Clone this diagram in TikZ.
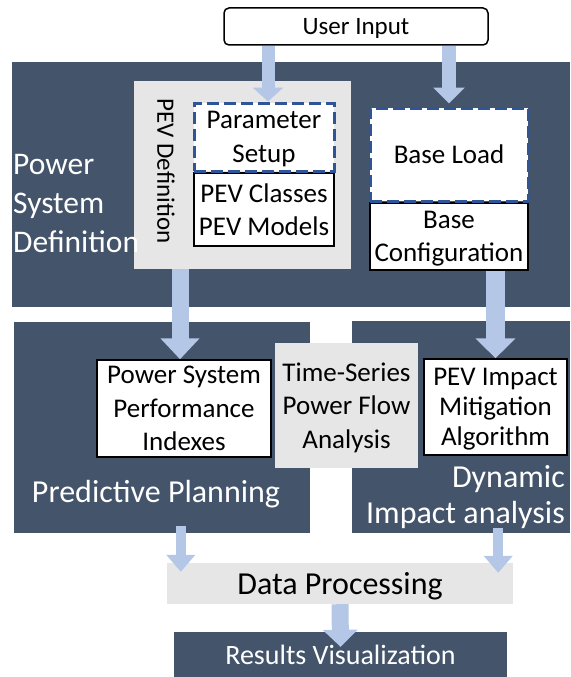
\documentclass[tikz,border=0pt]{standalone}
\usepackage{fontspec}
\setmainfont{Carlito}
\usetikzlibrary{arrows.meta,calc}
\definecolor{panel}{RGB}{68,84,106}
\definecolor{lgray}{RGB}{231,230,230}
\definecolor{arrowc}{RGB}{180,199,231}
\definecolor{dblue}{RGB}{47,85,151}
\tikzset{
  panelbox/.style={fill=panel, draw=none, inner sep=0pt, text depth=0pt},
  graybox/.style={fill=lgray, draw=none, inner sep=0pt, align=center, text depth=0pt},
  solidbox/.style={fill=white, draw=black, line width=1.5pt, inner sep=0pt, align=center, text depth=0pt},
  dashbox/.style={fill=white, draw=dblue, line width=3pt, dash pattern=on 12pt off 5pt, inner sep=0pt, align=center, text depth=0pt},
  boxfont/.style={font=\fontsize{27}{33.5}\selectfont},
  blockarrow/.style n args={3}{draw=arrowc, line width=#1, -{Triangle[length=#2,width=#3]}},
}
\begin{document}
\begin{tikzpicture}[x=1pt,y=-1pt]
\useasboundingbox (0,0) rectangle (570,677);
% panels
\node[panelbox, minimum width=558pt, minimum height=245pt] (psd) at (291,184.5) {};
\node[panelbox, minimum width=296pt, minimum height=211pt] (pp) at (162,427.5) {};
\node[panelbox, minimum width=218pt, minimum height=212pt] (dy) at (461,427) {};
\node[panelbox, minimum width=333pt, minimum height=45pt, text=white, font=\fontsize{28}{33}\selectfont] (rv) at (340.5,654.5) {Results Visualization};
% user input
\node[solidbox, rounded corners=5pt, minimum width=264pt, minimum height=37pt, font=\fontsize{25}{30}\selectfont] (ui) at (356,26.5) {User Input};
% PEV definition
\node[graybox, minimum width=217pt, minimum height=188pt] (pevdef) at (242.5,175) {};
\node[rotate=-90, font=\fontsize{25}{30}\selectfont, inner sep=0pt] (pevlabel) at (166,171) {PEV Definition};
\node[solidbox, boxfont, minimum width=140pt, minimum height=73pt] (cls) at (264,209.5) {PEV Classes\\PEV Models};
\node[dashbox, boxfont, minimum width=140pt, minimum height=68pt] (ps) at (264,137) {Parameter\\Setup};
\node[solidbox, boxfont, minimum width=158pt, minimum height=67pt] (bc) at (449,236.5) {Base\\Configuration};
\node[dashbox, boxfont, minimum width=158pt, minimum height=93pt] (bl) at (449,154.5) {Base Load};
\node[anchor=west, align=left, text=white, inner sep=0pt, font=\fontsize{31.5}{39}\selectfont] (psdlabel) at (13,204) {Power\\System\\Definition};
% lower part
\node[graybox, boxfont, minimum width=143pt, minimum height=125pt] (ts) at (346.5,405.5) {Time-Series\\Power Flow\\Analysis};
\node[solidbox, boxfont, minimum width=174pt, minimum height=97pt] (perf) at (184,408.5) {Power System\\Performance\\Indexes};
\node[solidbox, font=\fontsize{27}{30}\selectfont, minimum width=143pt, minimum height=96pt] (mit) at (495.5,407) {PEV Impact\\Mitigation\\Algorithm};
\node[text=white, inner sep=0pt, font=\fontsize{32}{36}\selectfont] (pplabel) at (156,494) {Predictive Planning};
\node[anchor=east, align=right, text=white, inner sep=0pt, font=\fontsize{32}{36}\selectfont] (dylabel) at (565,497) {Dynamic\\Impact analysis};
\node[graybox, minimum width=346pt, minimum height=41pt, font=\fontsize{32}{37}\selectfont] (dp) at (340,583.5) {Data Processing};
% arrows
\draw[blockarrow={13pt}{14pt}{30pt}] ($(ui.south -| ps.north)+(4pt,0)$) -- ($(ps.north)+(4pt,0)$);
\draw[blockarrow={14pt}{16pt}{31pt}] (ui.south -| bl.north) -- ($(bl.north)+(0,3pt)$);
\draw[blockarrow={17pt}{21pt}{38pt}] ($(pevdef.south -| perf.north)+(-4pt,0)$) -- ($(perf.north)+(-4pt,0)$);
\draw[blockarrow={19pt}{20pt}{39pt}] (bc.south -| mit.north) -- (mit.north);
\draw[blockarrow={10pt}{17pt}{28pt}] ($(dp.north west)+(14pt,37pt)$) -- ($(dp.north west)+(14pt,-9pt)$);
\draw[blockarrow={10pt}{17pt}{28pt}] ($(dp.north east)+(-15pt,35pt)$) -- ($(dp.north east)+(-15pt,-10pt)$);
\draw[blockarrow={17pt}{17pt}{34pt}] (dp.south) -- ($(rv.north)+(0,-15pt)$);
\end{tikzpicture}
\end{document}
